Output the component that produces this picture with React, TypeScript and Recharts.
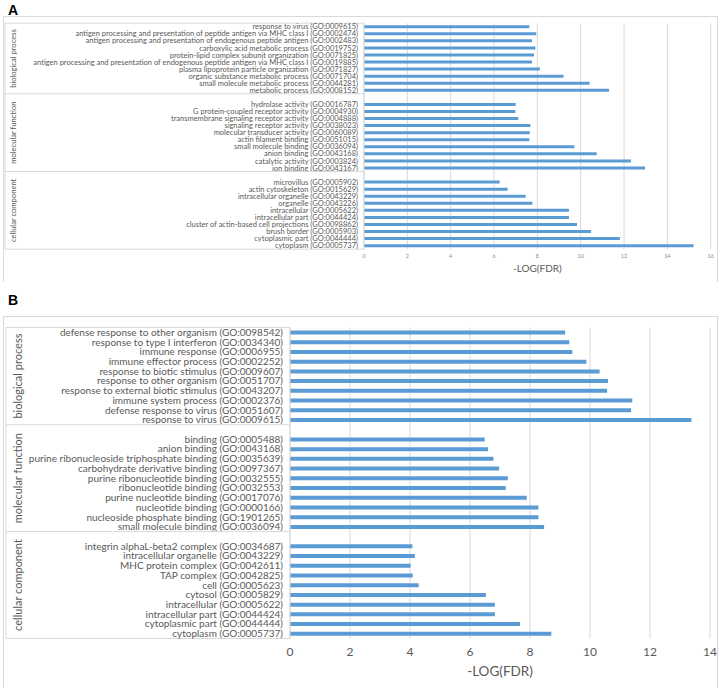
import React from 'react'
import { BarChart, Bar, XAxis, YAxis, CartesianGrid } from 'recharts'

// group names (same for both panels)
const groupNames = ['biological process', 'molecular function', 'cellular component']

// ---- panel A ----
const aBioTerms = [
    'response to virus (GO:0009615)',
    'antigen processing and presentation of peptide antigen via MHC class I (GO:0002474)',
    'antigen processing and presentation of endogenous peptide antigen (GO:0002483)',
    'carboxylic acid metabolic process (GO:0019752)',
    'protein-lipid complex subunit organization (GO:0071825)',
    'antigen processing and presentation of endogenous peptide antigen via MHC class I (GO:0019885)',
    'plasma lipoprotein particle organization (GO:0071827)',
    'organic substance metabolic process (GO:0071704)',
    'small molecule metabolic process (GO:0044281)',
    'metabolic process (GO:0008152)',
]
const aBioValues = [7.63, 7.95, 7.75, 7.91, 7.85, 7.75, 8.12, 9.21, 10.41, 11.31]

const aMolTerms = [
    'hydrolase activity (GO:0016787)',
    'G protein-coupled receptor activity (GO:0004930)',
    'transmembrane signaling receptor activity (GO:0004888)',
    'signaling receptor activity (GO:0038023)',
    'molecular transducer activity (GO:0060089)',
    'actin filament binding (GO:0051015)',
    'small molecule binding (GO:0036094)',
    'anion binding (GO:0043168)',
    'catalytic activity (GO:0003824)',
    'ion binding (GO:0043167)',
]
const aMolValues = [7.0, 6.98, 7.12, 7.68, 7.65, 7.63, 9.71, 10.74, 12.32, 12.97]

const aCellTerms = [
    'microvillus (GO:0005902)',
    'actin cytoskeleton (GO:0015629)',
    'intracellular organelle (GO:0043229)',
    'organelle (GO:0043226)',
    'intracellular (GO:0005622)',
    'intracellular part (GO:0044424)',
    'cluster of actin-based cell projections (GO:0098862)',
    'brush border (GO:0005903)',
    'cytoplasmic part (GO:0044444)',
    'cytoplasm (GO:0005737)',
]
const aCellValues = [6.26, 6.63, 7.46, 7.77, 9.46, 9.46, 9.83, 10.48, 11.81, 15.21]

const aTicks = [0, 2, 4, 6, 8, 10, 12, 14, 16]

// ---- panel B ----
const bBioTerms = [
    'defense response to other organism (GO:0098542)',
    'response to type I interferon (GO:0034340)',
    'immune response (GO:0006955)',
    'immune effector process (GO:0002252)',
    'response to biotic stimulus (GO:0009607)',
    'response to other organism (GO:0051707)',
    'response to external biotic stimulus (GO:0043207)',
    'immune system process (GO:0002376)',
    'defense response to virus (GO:0051607)',
    'response to virus (GO:0009615)',
]
const bBioValues = [9.17, 9.31, 9.41, 9.88, 10.32, 10.6, 10.57, 11.41, 11.37, 13.38]

const bMolTerms = [
    'binding (GO:0005488)',
    'anion binding (GO:0043168)',
    'purine ribonucleoside triphosphate binding (GO:0035639)',
    'carbohydrate derivative binding (GO:0097367)',
    'purine ribonucleotide binding (GO:0032555)',
    'ribonucleotide binding (GO:0032553)',
    'purine nucleotide binding (GO:0017076)',
    'nucleotide binding (GO:0000166)',
    'nucleoside phosphate binding (GO:1901265)',
    'small molecule binding (GO:0036094)',
]
const bMolValues = [6.49, 6.6, 6.78, 6.97, 7.26, 7.19, 7.89, 8.28, 8.28, 8.47]

const bCellTerms = [
    'integrin alphaL-beta2 complex (GO:0034687)',
    'intracellular organelle (GO:0043229)',
    'MHC protein complex (GO:0042611)',
    'TAP complex (GO:0042825)',
    'cell (GO:0005623)',
    'cytosol (GO:0005829)',
    'intracellular (GO:0005622)',
    'intracellular part (GO:0044424)',
    'cytoplasmic part (GO:0044444)',
    'cytoplasm (GO:0005737)',
]
const bCellValues = [4.08, 4.16, 4.02, 4.09, 4.29, 6.53, 6.83, 6.83, 7.67, 8.71]

const bTicks = [0, 2, 4, 6, 8, 10, 12, 14]

const BAR = '#5b9bd5'
const TEXT = '#595959'
const LINE = '#d9d9d9'
const FONT = 'Lato, "Open Sans", sans-serif'

type Row = { id: string; term: string; value: number | null; group: number }

// one blank row opens every group after the first, like the Excel sheet
function buildRows(prefix: string, groups: [string[], number[]][]): Row[] {
    const rows: Row[] = []
    groups.forEach(([terms, values], g) => {
        if (g > 0) rows.push({ id: `${prefix}-blank-${g}`, term: '', value: null, group: g })
        terms.forEach((t, i) => rows.push({ id: `${prefix}-${g}-${i}`, term: t, value: values[i], group: g }))
    })
    return rows
}

const rowsA = buildRows('a', [[aBioTerms, aBioValues], [aMolTerms, aMolValues], [aCellTerms, aCellValues]])
const rowsB = buildRows('b', [[bBioTerms, bBioValues], [bMolTerms, bMolValues], [bCellTerms, bCellValues]])

interface TickCfg {
    rows: Row[]
    step: number
    gap: number
    boxLeft: number
    groupX: number
    fontSize: number
    groupFontSize: number
}

function makeTick(cfg: TickCfg) {
    return function CategoryTick(props: any) {
        const { x, y, index } = props
        const row = cfg.rows[index]
        if (!row) return null
        const axisX = x + cfg.gap
        const top = y - cfg.step / 2
        const first = index === 0 || cfg.rows[index - 1].group !== row.group
        const last = index === cfg.rows.length - 1
        const n = cfg.rows.filter(r => r.group === row.group).length
        const cy = top + (n * cfg.step) / 2
        return (
            <g>
                {index === 0 && (
                    <line x1={cfg.boxLeft} x2={cfg.boxLeft} y1={top} y2={top + cfg.step * cfg.rows.length} stroke={LINE} />
                )}
                {first && <line x1={cfg.boxLeft} x2={axisX} y1={top} y2={top} stroke={LINE} />}
                {last && <line x1={cfg.boxLeft} x2={axisX} y1={top + cfg.step} y2={top + cfg.step} stroke={LINE} />}
                {first && (
                    <text
                        x={cfg.groupX}
                        y={cy}
                        transform={`rotate(-90, ${cfg.groupX}, ${cy})`}
                        textAnchor="middle"
                        dominantBaseline="central"
                        fill={TEXT}
                        fontSize={cfg.groupFontSize}
                        fontFamily={FONT}
                    >
                        {groupNames[row.group]}
                    </text>
                )}
                {row.term && (
                    <text x={x} y={y} dy="0.35em" textAnchor="end" fill={TEXT} fontSize={cfg.fontSize} fontFamily={FONT}>
                        {row.term}
                    </text>
                )}
            </g>
        )
    }
}

const TickA = makeTick({ rows: rowsA, step: 226 / 32, gap: 6, boxLeft: 5, groupX: 13, fontSize: 7.5, groupFontSize: 7.6 })
const TickB = makeTick({ rows: rowsB, step: 311 / 32, gap: 7, boxLeft: 6, groupX: 17, fontSize: 10, groupFontSize: 11 })

export default function App() {
    return (
        <div style={{ position: 'absolute', left: 0, top: 0, width: 720, height: 688, background: '#fff', fontFamily: FONT }}>
            <div style={{ position: 'absolute', left: 8, top: 2, fontFamily: '"Liberation Sans", Arial', fontWeight: 700, fontSize: 14 }}>A</div>
            <div style={{ position: 'absolute', left: 3, top: 16, width: 713, height: 265, borderTop: `1px solid ${LINE}`, borderLeft: `1px solid ${LINE}`, borderRight: `1px solid ${LINE}` }} />
            <div style={{ position: 'absolute', left: 0, top: 0 }}>
                <BarChart width={720} height={290} data={rowsA} layout="vertical" margin={{ top: 23.2, right: 9.3, bottom: 10.8, left: 0 }}>
                    <CartesianGrid horizontal={false} stroke={LINE} />
                    <XAxis
                        type="number"
                        domain={[0, 16]}
                        ticks={aTicks}
                        height={30}
                        axisLine={false}
                        tickLine={false}
                        tickSize={3}
                        tickMargin={2}
                        tick={{ fill: '#8c8c8c', fontSize: 5.5, fontFamily: FONT }}
                        label={{ value: '-LOG(FDR)', position: 'insideBottom', offset: 7, fill: TEXT, fontSize: 10, fontFamily: FONT }}
                    />
                    <YAxis
                        type="category"
                        dataKey="id"
                        width={364}
                        interval={0}
                        axisLine={{ stroke: LINE }}
                        tickLine={false}
                        tickSize={0}
                        tickMargin={6}
                        tick={TickA}
                    />
                    <Bar dataKey="value" fill={BAR} barSize={3} isAnimationActive={false} />
                </BarChart>
            </div>

            <div style={{ position: 'absolute', left: 8, top: 292, fontFamily: '"Liberation Sans", Arial', fontWeight: 700, fontSize: 14 }}>B</div>
            <div style={{ position: 'absolute', left: 3, top: 316, width: 713, height: 380, borderTop: `1px solid ${LINE}`, borderLeft: `1px solid ${LINE}`, borderRight: `1px solid ${LINE}` }} />
            <div style={{ position: 'absolute', left: 0, top: 290 }}>
                <BarChart width={720} height={398} data={rowsB} layout="vertical" margin={{ top: 37.5, right: 10, bottom: 9.5, left: 0 }}>
                    <CartesianGrid horizontal={false} stroke={LINE} />
                    <XAxis
                        type="number"
                        domain={[0, 14]}
                        ticks={bTicks}
                        height={40}
                        axisLine={false}
                        tickLine={false}
                        tickSize={6}
                        tickMargin={3}
                        tick={{ fill: TEXT, fontSize: 12, fontFamily: FONT }}
                        label={{ value: '-LOG(FDR)', position: 'insideBottom', offset: 3, fill: TEXT, fontSize: 13.5, fontFamily: FONT }}
                    />
                    <YAxis
                        type="category"
                        dataKey="id"
                        width={290}
                        interval={0}
                        axisLine={{ stroke: LINE }}
                        tickLine={false}
                        tickSize={0}
                        tickMargin={7}
                        tick={TickB}
                    />
                    <Bar dataKey="value" fill={BAR} barSize={4} isAnimationActive={false} />
                </BarChart>
            </div>
        </div>
    )
}
